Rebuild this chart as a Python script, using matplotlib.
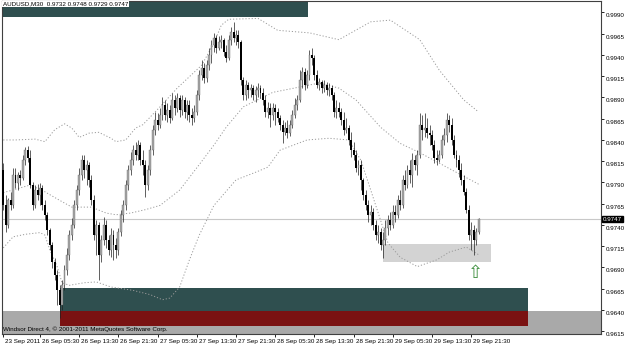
import numpy as np
import matplotlib
matplotlib.use("Agg")
import matplotlib.pyplot as plt
from matplotlib.patches import Rectangle
import matplotlib.transforms as mtransforms

plt.rcParams.update({"font.family": ["Liberation Sans", "DejaVu Sans"], "font.size": 4.5})

# AUDUSD M30 candles, prices in pips (x 0.0001), bar 0 = 23 Sep 22:00
opens = [9805, 9763, 9740, 9769, 9763, 9799, 9789, 9799, 9795, 9816, 9828, 9819, 9787, 9763, 9781, 9775,
         9783, 9763, 9752, 9734, 9716, 9696, 9681, 9663, 9646, 9669, 9687, 9705, 9728, 9740, 9763, 9781,
         9799, 9816, 9805, 9811, 9793, 9769, 9728, 9740, 9705, 9722, 9740, 9722, 9711, 9728, 9716, 9711,
         9732, 9752, 9763, 9787, 9805, 9816, 9828, 9822, 9834, 9816, 9811, 9787, 9805, 9828, 9852, 9863,
         9858, 9869, 9881, 9869, 9875, 9866, 9887, 9878, 9889, 9875, 9887, 9873, 9881, 9869, 9866, 9873,
         9893, 9916, 9925, 9913, 9928, 9940, 9952, 9960, 9948, 9955, 9958, 9944, 9936, 9958, 9967, 9960,
         9963, 9955, 9911, 9893, 9905, 9899, 9901, 9893, 9899, 9901, 9895, 9887, 9873, 9878, 9869, 9878,
         9873, 9866, 9858, 9849, 9854, 9848, 9858, 9869, 9881, 9887, 9911, 9920, 9905, 9916, 9940, 9936,
         9916, 9905, 9908, 9901, 9905, 9899, 9901, 9893, 9873, 9878, 9873, 9863, 9852, 9854, 9840, 9828,
         9822, 9807, 9811, 9793, 9775, 9763, 9752, 9755, 9740, 9728, 9732, 9716, 9722, 9736, 9746, 9740,
         9755, 9752, 9769, 9763, 9793, 9787, 9805, 9799, 9816, 9811, 9822, 9858, 9852, 9854, 9848, 9846,
         9834, 9819, 9816, 9822, 9840, 9846, 9863, 9858, 9840, 9822, 9816, 9805, 9793, 9779, 9758, 9728,
         9734, 9722, 9732]
highs = [9813, 9775, 9772, 9779, 9807, 9807, 9802, 9805, 9822, 9832, 9833, 9828, 9791, 9787, 9788, 9789,
         9787, 9769, 9755, 9736, 9720, 9701, 9687, 9669, 9675, 9693, 9713, 9734, 9748, 9769, 9787, 9807,
         9822, 9822, 9816, 9814, 9799, 9775, 9746, 9743, 9728, 9749, 9746, 9728, 9736, 9734, 9725, 9736,
         9758, 9769, 9793, 9811, 9826, 9834, 9838, 9840, 9838, 9828, 9816, 9811, 9834, 9858, 9873, 9872,
         9878, 9891, 9887, 9883, 9881, 9895, 9893, 9895, 9893, 9893, 9891, 9887, 9887, 9878, 9881, 9899,
         9922, 9934, 9931, 9934, 9948, 9958, 9966, 9963, 9962, 9963, 9960, 9952, 9963, 9973, 9979, 9969,
         9969, 9958, 9914, 9911, 9908, 9906, 9905, 9903, 9907, 9905, 9901, 9893, 9885, 9883, 9883, 9882,
         9878, 9869, 9863, 9861, 9863, 9863, 9875, 9889, 9893, 9922, 9926, 9925, 9922, 9946, 9948, 9940,
         9922, 9913, 9911, 9911, 9908, 9907, 9905, 9896, 9887, 9885, 9878, 9873, 9866, 9858, 9849, 9838,
         9828, 9816, 9816, 9795, 9781, 9769, 9763, 9760, 9746, 9740, 9736, 9732, 9746, 9752, 9755, 9763,
         9763, 9775, 9781, 9799, 9805, 9811, 9816, 9825, 9822, 9828, 9872, 9869, 9872, 9866, 9858, 9852,
         9840, 9828, 9828, 9846, 9854, 9872, 9869, 9866, 9846, 9828, 9822, 9813, 9799, 9783, 9763, 9743,
         9740, 9736, 9748]
lows = [9758, 9732, 9736, 9758, 9760, 9783, 9781, 9787, 9793, 9811, 9814, 9783, 9758, 9760, 9769, 9763,
        9758, 9746, 9728, 9711, 9689, 9675, 9646, 9631, 9640, 9663, 9681, 9699, 9722, 9736, 9758, 9775,
        9793, 9795, 9787, 9785, 9763, 9722, 9705, 9675, 9696, 9716, 9713, 9705, 9702, 9699, 9701, 9705,
        9727, 9743, 9758, 9781, 9799, 9811, 9816, 9816, 9811, 9799, 9773, 9781, 9799, 9822, 9846, 9852,
        9854, 9863, 9863, 9861, 9860, 9863, 9869, 9873, 9867, 9869, 9866, 9863, 9861, 9858, 9861, 9869,
        9887, 9911, 9907, 9908, 9922, 9931, 9944, 9942, 9946, 9948, 9939, 9932, 9934, 9952, 9955, 9952,
        9948, 9905, 9887, 9887, 9889, 9891, 9887, 9885, 9891, 9889, 9881, 9867, 9866, 9855, 9863, 9858,
        9861, 9852, 9836, 9846, 9842, 9845, 9854, 9866, 9875, 9885, 9901, 9899, 9901, 9911, 9928, 9911,
        9901, 9899, 9895, 9896, 9893, 9892, 9887, 9867, 9866, 9867, 9858, 9846, 9848, 9834, 9820, 9816,
        9802, 9799, 9781, 9769, 9758, 9743, 9740, 9734, 9722, 9719, 9711, 9701, 9716, 9728, 9734, 9736,
        9743, 9748, 9758, 9760, 9781, 9783, 9789, 9785, 9805, 9799, 9819, 9840, 9843, 9842, 9834, 9828,
        9813, 9811, 9814, 9819, 9834, 9838, 9849, 9834, 9819, 9808, 9796, 9787, 9775, 9754, 9722, 9711,
        9705, 9716, 9729]
closes = [9763, 9740, 9769, 9763, 9799, 9789, 9799, 9795, 9816, 9828, 9819, 9787, 9763, 9781, 9775, 9783,
          9763, 9752, 9734, 9716, 9696, 9681, 9663, 9646, 9669, 9687, 9705, 9728, 9740, 9763, 9781, 9799,
          9816, 9805, 9811, 9793, 9769, 9728, 9740, 9705, 9722, 9740, 9722, 9711, 9728, 9716, 9711, 9732,
          9752, 9763, 9787, 9805, 9816, 9828, 9822, 9834, 9816, 9811, 9787, 9805, 9828, 9852, 9863, 9858,
          9869, 9881, 9869, 9875, 9866, 9887, 9878, 9889, 9875, 9887, 9873, 9881, 9869, 9866, 9873, 9893,
          9916, 9925, 9913, 9928, 9940, 9952, 9960, 9948, 9955, 9958, 9944, 9936, 9958, 9967, 9960, 9963,
          9955, 9911, 9893, 9905, 9899, 9901, 9893, 9899, 9901, 9895, 9887, 9873, 9878, 9869, 9878, 9873,
          9866, 9858, 9849, 9854, 9848, 9858, 9869, 9881, 9887, 9911, 9920, 9905, 9916, 9940, 9936, 9916,
          9905, 9908, 9901, 9905, 9899, 9901, 9893, 9873, 9878, 9873, 9863, 9852, 9854, 9840, 9828, 9822,
          9807, 9811, 9793, 9775, 9763, 9752, 9755, 9740, 9728, 9732, 9716, 9722, 9736, 9746, 9740, 9755,
          9752, 9769, 9763, 9793, 9787, 9805, 9799, 9816, 9811, 9822, 9858, 9852, 9854, 9848, 9846, 9834,
          9819, 9816, 9822, 9840, 9846, 9863, 9858, 9840, 9822, 9816, 9805, 9793, 9779, 9758, 9728, 9734,
          9722, 9732, 9747]

# bollinger envelope vertices: (bar index, pips)
upper_bar = [0, 5, 13, 17, 21, 25, 28, 31, 35, 39, 44, 46, 50, 54, 57, 60, 64, 71, 81, 86, 89, 92,
             104, 112, 125, 137, 150, 158, 170, 178, 188, 194]
upper_val = [9840, 9840, 9841, 9838, 9852, 9859, 9854, 9843, 9848, 9849, 9842, 9838, 9840, 9854, 9858,
             9867, 9879, 9901, 9928, 9954, 9975, 9982, 9983, 9969, 9966, 9958, 9979, 9981, 9958, 9922,
             9887, 9873]
middle_bar = [0, 5, 11, 17, 23, 28, 36, 42, 46, 52, 58, 64, 72, 80, 86, 91, 98, 110, 117, 129, 137,
              144, 154, 162, 170, 181, 194]
middle_val = [9778, 9782, 9787, 9779, 9769, 9761, 9761, 9754, 9752, 9754, 9758, 9763, 9781, 9811, 9834,
              9855, 9879, 9896, 9900, 9907, 9901, 9887, 9855, 9836, 9825, 9808, 9788]
lower_bar = [0, 4, 9, 15, 17, 19, 22, 24, 27, 33, 38, 44, 53, 60, 65, 68, 72, 76, 80, 86, 95, 103,
             108, 113, 124, 133, 141, 146, 150, 157, 162, 169, 177, 182, 189, 194]
lower_val = [9713, 9726, 9729, 9731, 9728, 9711, 9691, 9672, 9669, 9672, 9673, 9667, 9663, 9658, 9652,
             9654, 9667, 9699, 9728, 9763, 9793, 9802, 9808, 9828, 9840, 9842, 9840, 9816, 9781, 9719,
             9702, 9691, 9699, 9708, 9714, 9705]

time_ticks = [0, 15, 31, 47, 63, 79, 95, 111, 127, 143, 159, 175, 191]
time_labels = ["23 Sep 2011", "26 Sep 05:30", "26 Sep 13:30", "26 Sep 21:30", "27 Sep 05:30",
               "27 Sep 13:30", "27 Sep 21:30", "28 Sep 05:30", "28 Sep 13:30", "28 Sep 21:30",
               "29 Sep 05:30", "29 Sep 13:30", "29 Sep 21:30"]
price_ticks = [0.9615, 0.9640, 0.9665, 0.9690, 0.9715, 0.9740, 0.9765, 0.9790, 0.9815, 0.9840,
               0.9865, 0.9890, 0.9915, 0.9940, 0.9965, 0.9990]
last_price = 0.9747
header = "AUDUSD,M30  0.9732 0.9748 0.9729 0.9747"
footer = "Windsor Direct 4, \u00a9 2001-2011 MetaQuotes Software Corp."

# zones: (bar start, bar end, price low, price high)
zone_top = (-5, 124.4, 0.9985, 1.0100)
zone_teal = (23.2, 214.2, 0.9639, 0.9666)
zone_red = (23.2, 214.2, 0.9621, 0.9639)
zone_gray = (-5, 260, 0.9500, 0.9639)
zone_light = (155, 199.1, 0.9696, 0.9718)
arrow_bar, arrow_price = 192.6, 0.9694


def main():
    o = np.array(opens) * 1e-4
    h = np.array(highs) * 1e-4
    lo = np.array(lows) * 1e-4
    c = np.array(closes) * 1e-4
    x = np.arange(len(c))

    fig = plt.figure(figsize=(6.25, 3.45), dpi=100)
    ax = fig.add_axes([2 / 625, 11 / 345, 599 / 625, 333 / 345])
    ax.set_xlim(-0.51, 243.98)
    ax.set_ylim(0.96117, 1.00035)

    for (x0, x1, y0, y1), col, z in [(zone_gray, "#a9a9a9", 0.5), (zone_top, "#2f4f4f", 0.6),
                                     (zone_teal, "#2f4f4f", 0.6), (zone_red, "#7a1212", 0.6),
                                     (zone_light, "#d3d3d3", 0.7)]:
        ax.add_patch(Rectangle((x0, y0), x1 - x0, y1 - y0, color=col, lw=0, zorder=z))

    ax.axhline(last_price, color="#c8c8c8", lw=0.8, zorder=1)

    for bx, bv in [(upper_bar, upper_val), (middle_bar, middle_val), (lower_bar, lower_val)]:
        ax.plot(bx, np.array(bv) * 1e-4, color="#9a9a9a", lw=0.7, ls=(0, (1.2, 2.0)), zorder=1.5)

    up = c >= o
    ax.vlines(x, lo, h, color="#202020", lw=0.5, zorder=2)
    ax.bar(x[up], np.maximum(c - o, 0.00008)[up], bottom=o[up], width=0.8,
           color="#a8a8a8", edgecolor="#606060", linewidth=0.25, zorder=3)
    ax.bar(x[~up], (o - c)[~up], bottom=c[~up], width=0.8, color="black", lw=0, zorder=3)

    ax.text(arrow_bar, arrow_price, "\u21e7", ha="center", va="top", color="#3f8f3f",
            fontsize=13, family="DejaVu Sans", zorder=4)

    ax.yaxis.tick_right()
    ax.set_yticks(price_ticks)
    ax.set_yticklabels([f"{p:.4f}" for p in price_ticks])
    ax.set_xticks(time_ticks)
    ax.set_xticklabels(time_labels, ha="left")
    ax.tick_params(axis="both", length=2.5, width=0.6, color="black", labelsize=4.5, pad=0.8)
    for lab in ax.get_xticklabels():
        lab.set_transform(lab.get_transform() + mtransforms.ScaledTranslation(2 / 100, 0, fig.dpi_scale_trans))
    for lab in ax.get_yticklabels():
        lab.set_transform(lab.get_transform() + mtransforms.ScaledTranslation(0, -3 / 100, fig.dpi_scale_trans))
    for sp in ax.spines.values():
        sp.set_color("#404040")
        sp.set_linewidth(0.8)

    tr = mtransforms.blended_transform_factory(ax.transAxes, ax.transData)
    ax.text(1.0035, last_price, f"{last_price:.4f}", transform=tr, va="center", ha="left",
            color="white", fontsize=4.5, zorder=5,
            bbox=dict(facecolor="black", edgecolor="black", pad=0.5))

    fig.text(3 / 625, 1 - 1.5 / 345, header, va="top", ha="left", fontsize=4.5,
             bbox=dict(facecolor="white", edgecolor="none", pad=0.4))
    fig.text(3 / 625, 1 - 329 / 345, footer, va="center", ha="left", fontsize=4.5)

    fig.savefig("out.png", dpi=100)


if __name__ == "__main__":
    main()
